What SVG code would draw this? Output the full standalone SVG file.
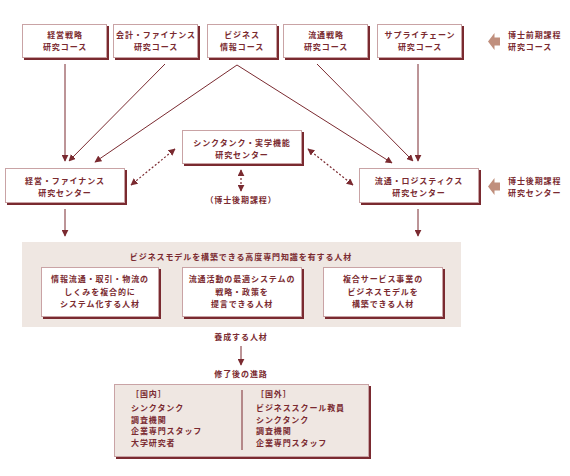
<svg xmlns="http://www.w3.org/2000/svg" width="570" height="476" viewBox="0 0 570 476">
<style>
text{font-family:"Noto Sans CJK JP","Noto Sans CJK SC",sans-serif;font-weight:bold;font-size:8px;fill:#7a2a30;letter-spacing:0.9px}
.c{text-anchor:middle}
.bx{fill:#fff;stroke:#c9a3a5;stroke-width:1}
.sh{fill:#7a2a30}
.ln{stroke:#7a2a30;stroke-width:1;fill:none}
.ds{stroke:#7a2a30;stroke-width:1.2;fill:none;stroke-dasharray:2 2}
.tan{fill:#c08f7d}
</style>
<defs>
<marker id="ah" viewBox="0 0 10 10" refX="9" refY="5" markerWidth="7" markerHeight="7" orient="auto-start-reverse" markerUnits="userSpaceOnUse">
<path d="M0,0 L10,5 L0,10 z" fill="#7a2a30"/>
</marker>
</defs>
<rect x="0" y="0" width="570" height="476" fill="#fff"/>
<g id="connectors">
<line class="ln" x1="65" y1="64" x2="65" y2="161" marker-end="url(#ah)"/>
<line class="ln" x1="165" y1="64" x2="69" y2="161" marker-end="url(#ah)"/>
<line class="ln" x1="237" y1="65" x2="95" y2="162" marker-end="url(#ah)"/>
<line class="ln" x1="237" y1="65" x2="392" y2="163" marker-end="url(#ah)"/>
<line class="ln" x1="317" y1="64" x2="413" y2="161" marker-end="url(#ah)"/>
<line class="ln" x1="418" y1="64" x2="418" y2="161" marker-end="url(#ah)"/>
<line class="ds" x1="175" y1="149" x2="131" y2="185" marker-start="url(#ah)" marker-end="url(#ah)"/>
<line class="ds" x1="308" y1="149" x2="353" y2="185" marker-start="url(#ah)" marker-end="url(#ah)"/>
<line class="ds" x1="241" y1="170" x2="241" y2="191" marker-start="url(#ah)" marker-end="url(#ah)"/>
<line class="ln" x1="65" y1="209" x2="65" y2="236" marker-end="url(#ah)"/>
<line class="ln" x1="418" y1="209" x2="418" y2="236" marker-end="url(#ah)"/>
<line class="ln" x1="241" y1="346" x2="241" y2="365" marker-end="url(#ah)"/>
</g>
<g id="course1">
<rect class="sh" x="24" y="26" width="85" height="34"/>
<rect class="bx" x="22.5" y="24.5" width="84" height="33"/>
<text class="c" x="65" y="38">経営戦略</text>
<text class="c" x="65" y="50">研究コース</text>
</g>
<g id="course2">
<rect class="sh" x="115" y="26" width="85" height="34"/>
<rect class="bx" x="113.5" y="24.5" width="84" height="33"/>
<text class="c" x="156" y="38">会計・ファイナンス</text>
<text class="c" x="156" y="50">研究コース</text>
</g>
<g id="course3">
<rect class="sh" x="209" y="26" width="70" height="34"/>
<rect class="bx" x="207.5" y="24.5" width="69" height="33"/>
<text class="c" x="242" y="38">ビジネス</text>
<text class="c" x="242" y="50">情報コース</text>
</g>
<g id="course4">
<rect class="sh" x="285" y="26" width="85" height="34"/>
<rect class="bx" x="283.5" y="24.5" width="84" height="33"/>
<text class="c" x="326" y="38">流通戦略</text>
<text class="c" x="326" y="50">研究コース</text>
</g>
<g id="course5">
<rect class="sh" x="379" y="26" width="85" height="34"/>
<rect class="bx" x="377.5" y="24.5" width="84" height="33"/>
<text class="c" x="420" y="38">サプライチェーン</text>
<text class="c" x="420" y="50">研究コース</text>
</g>
<g id="label-master">
<path class="tan" d="M488,41.5 L494.5,33 L494.5,37.5 L500,37.5 L500,45.5 L494.5,45.5 L494.5,50 z"/>
<text x="508" y="38">博士前期課程</text>
<text x="508" y="50">研究コース</text>
</g>
<g id="sector-left">
<rect class="sh" x="7" y="170" width="120" height="35"/>
<rect class="bx" x="5.5" y="168.5" width="119" height="34"/>
<text class="c" x="65" y="184">経営・ファイナンス</text>
<text class="c" x="65" y="196">研究センター</text>
</g>
<g id="sector-center">
<rect class="sh" x="184" y="132" width="120" height="34"/>
<rect class="bx" x="182.5" y="130.5" width="119" height="33"/>
<text class="c" x="242" y="146">シンクタンク・実学機能</text>
<text class="c" x="242" y="158">研究センター</text>
</g>
<text class="c" x="241" y="203">（博士後期課程）</text>
<g id="sector-right">
<rect class="sh" x="361" y="170" width="120" height="35"/>
<rect class="bx" x="359.5" y="168.5" width="119" height="34"/>
<text class="c" x="419" y="184">流通・ロジスティクス</text>
<text class="c" x="419" y="196">研究センター</text>
</g>
<g id="label-doctor">
<path class="tan" d="M488,186.5 L494.5,178 L494.5,182.5 L500,182.5 L500,190.5 L494.5,190.5 L494.5,195 z"/>
<text x="508" y="184">博士後期課程</text>
<text x="508" y="196">研究センター</text>
</g>
<g id="panel">
<rect x="22" y="242" width="439" height="85" fill="#efe7e2"/>
<text class="c" x="241" y="260">ビジネスモデルを構築できる高度専門知識を有する人材</text>
</g>
<g id="talent1">
<rect class="sh" x="43" y="269" width="118" height="50"/>
<rect class="bx" x="41.5" y="267.5" width="117" height="49"/>
<text class="c" x="100" y="282">情報流通・取引・物流の</text>
<text class="c" x="100" y="295">しくみを複合的に</text>
<text class="c" x="100" y="307">システム化する人材</text>
</g>
<g id="talent2">
<rect class="sh" x="184" y="269" width="120" height="50"/>
<rect class="bx" x="182.5" y="267.5" width="119" height="49"/>
<text class="c" x="242" y="282">流通活動の最適システムの</text>
<text class="c" x="242" y="295">戦略・政策を</text>
<text class="c" x="242" y="307">提言できる人材</text>
</g>
<g id="talent3">
<rect class="sh" x="325" y="269" width="120" height="50"/>
<rect class="bx" x="323.5" y="267.5" width="119" height="49"/>
<text class="c" x="383" y="282">複合サービス事業の</text>
<text class="c" x="383" y="295">ビジネスモデルを</text>
<text class="c" x="383" y="307">構築できる人材</text>
</g>
<text class="c" x="241" y="340">養成する人材</text>
<text class="c" x="241" y="377">修了後の進路</text>
<g id="career">
<rect class="sh" x="116" y="386" width="255" height="73"/>
<rect x="114.5" y="384.5" width="254" height="72" fill="#efe7e2" stroke="#c9a3a5" stroke-width="1"/>
<line x1="242" y1="390" x2="242" y2="450" stroke="#7a2a30" stroke-width="1"/>
<text x="131" y="397">［国内］</text>
<text x="131" y="411">シンクタンク</text>
<text x="131" y="423">調査機関</text>
<text x="131" y="434">企業専門スタッフ</text>
<text x="131" y="446">大学研究者</text>
<text x="256" y="397">［国外］</text>
<text x="256" y="411">ビジネススクール教員</text>
<text x="256" y="423">シンクタンク</text>
<text x="256" y="434">調査機関</text>
<text x="256" y="446">企業専門スタッフ</text>
</g>
</svg>
